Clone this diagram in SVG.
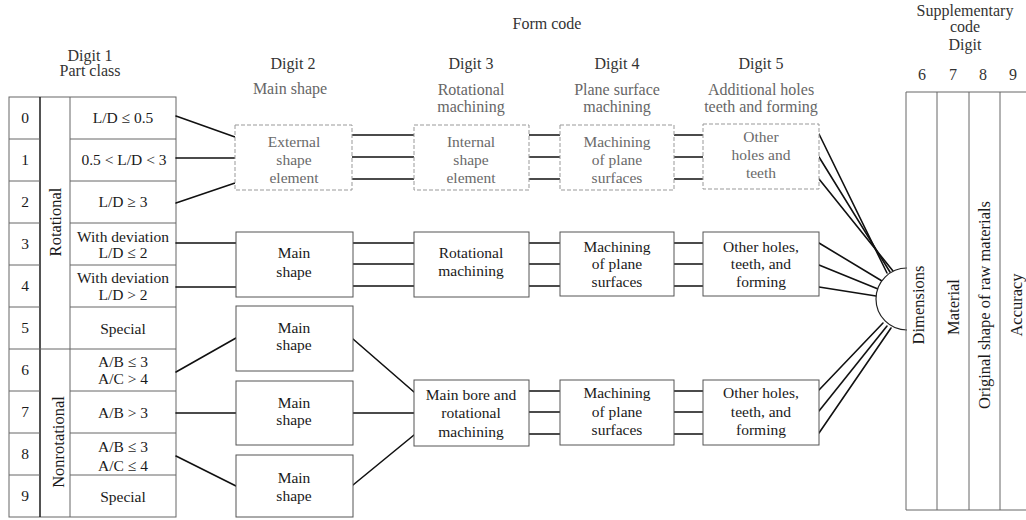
<svg xmlns="http://www.w3.org/2000/svg" width="1026" height="520" viewBox="0 0 1026 520">
<style>
text { font-family: "Liberation Serif", "Times New Roman", serif; font-size: 15.5px; fill: #1a1a1a; text-anchor: middle; }
.hd { fill: #333; font-size: 16px; }
.sub { fill: #666; font-size: 16px; }
.fade { fill: #6a6a6a; }
.vt { font-size: 16.5px; dominant-baseline: central; }
.box { fill: #fff; stroke: #555; stroke-width: 1; }
.faint { fill: #fff; stroke: #999; stroke-width: 1; stroke-dasharray: 4 2; }
.grid { fill: none; stroke: #666; stroke-width: 1; }
.dark { stroke: #1a1a1a; stroke-width: 1.5; }
.con { stroke: #111; stroke-width: 1.6; fill: none; stroke-linecap: round; }
</style>
<rect width="1026" height="520" fill="#fff"/>

<g id="headers">
  <text x="547" y="29" class="hd">Form code</text>
  <text x="90" y="61" class="hd">Digit 1</text>
  <text x="90" y="76" class="hd">Part class</text>
  <text x="293" y="69" class="hd">Digit 2</text>
  <text x="290" y="94" class="sub">Main shape</text>
  <text x="471" y="69" class="hd">Digit 3</text>
  <text x="471" y="95" class="sub">Rotational</text>
  <text x="471" y="112" class="sub">machining</text>
  <text x="617" y="69" class="hd">Digit 4</text>
  <text x="617" y="95" class="sub">Plane surface</text>
  <text x="617" y="112" class="sub">machining</text>
  <text x="761" y="69" class="hd">Digit 5</text>
  <text x="761" y="95" class="sub">Additional holes</text>
  <text x="761" y="112" class="sub">teeth and forming</text>
  <text x="965" y="16" class="hd">Supplementary</text>
  <text x="965" y="32" class="hd">code</text>
  <text x="965" y="50" class="hd">Digit</text>
  <text x="922" y="80" class="hd">6</text>
  <text x="953" y="80" class="hd">7</text>
  <text x="983" y="80" class="hd">8</text>
  <text x="1013" y="80" class="hd">9</text>
</g>

<g id="part-class">
  <rect x="9" y="97" width="167" height="420" class="grid"/>
  <line x1="40" y1="97" x2="40" y2="517" class="dark"/>
  <line x1="70" y1="97" x2="70" y2="517" class="grid"/>
  <path class="grid" d="M9 139H40M70 139H176M9 181H40M70 181H176M9 223H40M70 223H176M9 265H40M70 265H176M9 307H40M70 307H176M9 349H176M9 391H40M70 391H176M9 433H40M70 433H176M9 475H40M70 475H176"/>
  <text x="25" y="123">0</text>
  <text x="25" y="165">1</text>
  <text x="25" y="207">2</text>
  <text x="25" y="249">3</text>
  <text x="25" y="291">4</text>
  <text x="25" y="333">5</text>
  <text x="25" y="375">6</text>
  <text x="25" y="417">7</text>
  <text x="25" y="459">8</text>
  <text x="25" y="501">9</text>
  <text x="55" y="222" class="vt" transform="rotate(-90 55 222)">Rotational</text>
  <text x="58" y="442" class="vt" transform="rotate(-90 58 442)">Nonrotational</text>
  <text x="123" y="123">L/D ≤ 0.5</text>
  <text x="124" y="165">0.5 &lt; L/D &lt; 3</text>
  <text x="123" y="207">L/D ≥ 3</text>
  <text x="123" y="242">With deviation</text>
  <text x="123" y="258">L/D ≤ 2</text>
  <text x="123" y="283">With deviation</text>
  <text x="123" y="300">L/D &gt; 2</text>
  <text x="123" y="334">Special</text>
  <text x="123" y="367">A/B ≤ 3</text>
  <text x="123" y="384">A/C &gt; 4</text>
  <text x="123" y="418">A/B &gt; 3</text>
  <text x="123" y="452">A/B ≤ 3</text>
  <text x="123" y="471">A/C ≤ 4</text>
  <text x="123" y="502">Special</text>
</g>

<g id="connectors" class="con">
  <line x1="176" y1="116" x2="235" y2="137"/>
  <line x1="176" y1="158" x2="235" y2="158"/>
  <line x1="176" y1="203" x2="235" y2="183"/>
  <line x1="176" y1="243" x2="236" y2="243"/>
  <line x1="176" y1="287" x2="236" y2="287"/>
  <line x1="176" y1="372" x2="236" y2="338"/>
  <line x1="176" y1="413" x2="236" y2="413"/>
  <line x1="176" y1="456" x2="236" y2="486"/>
  <path d="M352 135H414M352 157H414M352 179H414"/>
  <path d="M353 243H414M353 264H414M353 286H414"/>
  <line x1="353" y1="339" x2="414" y2="392"/>
  <line x1="353" y1="413" x2="414" y2="413"/>
  <line x1="353" y1="485" x2="414" y2="435"/>
  <path d="M529 135H560M529 157H560M529 179H560"/>
  <path d="M529 243H560M529 264H560M529 286H560"/>
  <path d="M529 391H560M529 412H560M529 434H560"/>
  <path d="M674 135H703M674 157H703M674 179H703"/>
  <path d="M674 243H703M674 264H703M674 286H703"/>
  <path d="M674 391H703M674 412H703M674 434H703"/>
  <line x1="819" y1="134" x2="887" y2="273"/>
  <line x1="819" y1="157" x2="890" y2="272"/>
  <line x1="819" y1="179" x2="893" y2="271"/>
  <line x1="819" y1="243" x2="882" y2="281"/>
  <line x1="819" y1="265" x2="878" y2="289"/>
  <line x1="819" y1="287" x2="876" y2="296"/>
  <line x1="819" y1="390" x2="883" y2="323"/>
  <line x1="819" y1="411" x2="887" y2="326"/>
  <line x1="819" y1="433" x2="891" y2="328"/>
</g>

<g id="d2-external">
  <rect x="235" y="125" width="117" height="65" class="faint"/>
  <text x="294" y="147" class="fade">External</text>
  <text x="294" y="165" class="fade">shape</text>
  <text x="294" y="183" class="fade">element</text>
</g>
<g id="d2-main-1">
  <rect x="236" y="232" width="117" height="65" class="box"/>
  <text x="294" y="258">Main</text>
  <text x="294" y="277">shape</text>
</g>
<g id="d2-main-2">
  <rect x="236" y="306" width="117" height="65" class="box"/>
  <text x="294" y="333">Main</text>
  <text x="294" y="350">shape</text>
</g>
<g id="d2-main-3">
  <rect x="236" y="381" width="117" height="64" class="box"/>
  <text x="294" y="408">Main</text>
  <text x="294" y="425">shape</text>
</g>
<g id="d2-main-4">
  <rect x="236" y="455" width="117" height="62" class="box"/>
  <text x="294" y="483">Main</text>
  <text x="294" y="501">shape</text>
</g>

<g id="d3-internal">
  <rect x="414" y="125" width="115" height="65" class="faint"/>
  <text x="471" y="147" class="fade">Internal</text>
  <text x="471" y="165" class="fade">shape</text>
  <text x="471" y="183" class="fade">element</text>
</g>
<g id="d3-rotational">
  <rect x="414" y="232" width="115" height="65" class="box"/>
  <text x="471" y="258">Rotational</text>
  <text x="471" y="276">machining</text>
</g>
<g id="d3-mainbore">
  <rect x="414" y="380" width="115" height="66" class="box"/>
  <text x="471" y="400">Main bore and</text>
  <text x="471" y="418">rotational</text>
  <text x="471" y="437">machining</text>
</g>

<g id="d4-plane-1">
  <rect x="560" y="125" width="114" height="65" class="faint"/>
  <text x="617" y="147" class="fade">Machining</text>
  <text x="617" y="165" class="fade">of plane</text>
  <text x="617" y="183" class="fade">surfaces</text>
</g>
<g id="d4-plane-2">
  <rect x="560" y="232" width="114" height="64" class="box"/>
  <text x="617" y="252">Machining</text>
  <text x="617" y="269">of plane</text>
  <text x="617" y="287">surfaces</text>
</g>
<g id="d4-plane-3">
  <rect x="560" y="380" width="114" height="65" class="box"/>
  <text x="617" y="398">Machining</text>
  <text x="617" y="417">of plane</text>
  <text x="617" y="435">surfaces</text>
</g>

<g id="d5-holes-1">
  <rect x="703" y="124" width="116" height="65" class="faint"/>
  <text x="761" y="142" class="fade">Other</text>
  <text x="761" y="160" class="fade">holes and</text>
  <text x="761" y="178" class="fade">teeth</text>
</g>
<g id="d5-holes-2">
  <rect x="703" y="232" width="116" height="64" class="box"/>
  <text x="761" y="252">Other holes,</text>
  <text x="761" y="269">teeth, and</text>
  <text x="761" y="287">forming</text>
</g>
<g id="d5-holes-3">
  <rect x="703" y="380" width="116" height="65" class="box"/>
  <text x="761" y="398">Other holes,</text>
  <text x="761" y="417">teeth, and</text>
  <text x="761" y="435">forming</text>
</g>

<g id="junction">
  <path d="M907 268A31 31 0 0 0 907 330" fill="#fff" stroke="#222" stroke-width="1.2"/>
</g>

<g id="supplementary">
  <path class="grid" d="M906 92H1026M906 510H1026M906 92V510M937 92V510M969 92V510M1000 92V510"/>
  <text x="918" y="305" class="vt" transform="rotate(-90 918 305)">Dimensions</text>
  <text x="953" y="307" class="vt" transform="rotate(-90 953 307)">Material</text>
  <text x="984" y="305" class="vt" transform="rotate(-90 984 305)">Original shape of raw materials</text>
  <text x="1016" y="305" class="vt" transform="rotate(-90 1016 305)">Accuracy</text>
</g>
</svg>
